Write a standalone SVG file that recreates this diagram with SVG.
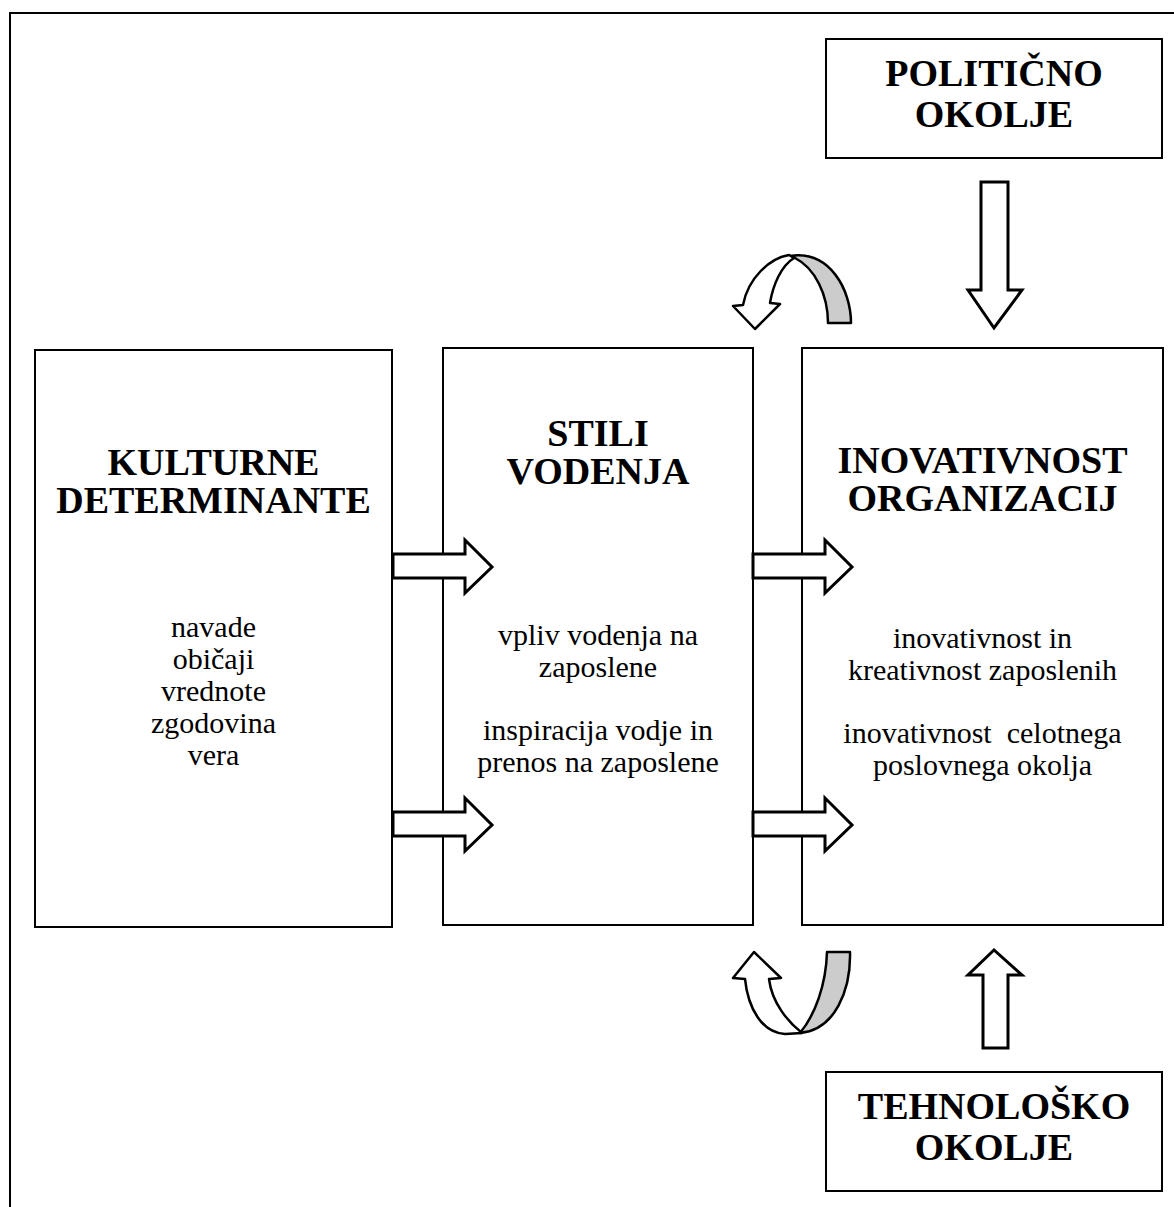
<svg xmlns="http://www.w3.org/2000/svg" width="1174" height="1207" viewBox="0 0 1174 1207">
  <style>
    .box { fill: #ffffff; stroke: #000000; stroke-width: 2; }
    .frame { fill: none; stroke: #000000; stroke-width: 2; }
    .blk { fill: #ffffff; stroke: #000000; stroke-width: 3; stroke-linejoin: miter; }
    .rib { fill: #ffffff; stroke: #000000; stroke-width: 2.5; stroke-linejoin: round; }
    .ribback { fill: #cccccc; stroke: #000000; stroke-width: 2.5; stroke-linejoin: round; }
    .title { font-family: "Liberation Serif", "Times New Roman", serif; font-weight: bold; font-size: 38px; text-anchor: middle; fill: #000000; }
    .body { font-family: "Liberation Serif", "Times New Roman", serif; font-size: 30px; text-anchor: middle; fill: #000000; }
  </style>

  <rect x="0" y="0" width="1174" height="1207" fill="#ffffff"/>

  <!-- page frame (open on the right and bottom) -->
  <path class="frame" d="M 10,1207 L 10,13 L 1174,13"/>

  <g id="politicno-okolje">
    <rect class="box" x="826" y="39" width="336" height="119"/>
    <text class="title" x="994" y="86">POLITIČNO</text>
    <text class="title" x="994" y="127">OKOLJE</text>
  </g>

  <g id="kulturne-determinante">
    <rect class="box" x="35" y="350" width="357" height="577"/>
    <text class="title" x="213.5" y="475">KULTURNE</text>
    <text class="title" x="213.5" y="513">DETERMINANTE</text>
    <text class="body" x="213.5" y="637">navade</text>
    <text class="body" x="213.5" y="669">običaji</text>
    <text class="body" x="213.5" y="701">vrednote</text>
    <text class="body" x="213.5" y="733">zgodovina</text>
    <text class="body" x="213.5" y="765">vera</text>
  </g>

  <g id="stili-vodenja">
    <rect class="box" x="443" y="348" width="310" height="577"/>
    <text class="title" x="598" y="446">STILI</text>
    <text class="title" x="598" y="484">VODENJA</text>
    <text class="body" x="598" y="645">vpliv vodenja na</text>
    <text class="body" x="598" y="677">zaposlene</text>
    <text class="body" x="598" y="740">inspiracija vodje in</text>
    <text class="body" x="598" y="772">prenos na zaposlene</text>
  </g>

  <g id="inovativnost-organizacij">
    <rect class="box" x="802" y="348" width="361" height="577"/>
    <text class="title" x="982.5" y="473">INOVATIVNOST</text>
    <text class="title" x="982.5" y="511">ORGANIZACIJ</text>
    <text class="body" x="982.5" y="648">inovativnost in</text>
    <text class="body" x="982.5" y="680">kreativnost zaposlenih</text>
    <text class="body" x="982.5" y="743" xml:space="preserve">inovativnost  celotnega</text>
    <text class="body" x="982.5" y="775">poslovnega okolja</text>
  </g>

  <g id="tehnolosko-okolje">
    <rect class="box" x="826" y="1072" width="336" height="119"/>
    <text class="title" x="994" y="1119">TEHNOLOŠKO</text>
    <text class="title" x="994" y="1160">OKOLJE</text>
  </g>

  <g id="connectors">
    <!-- block arrows: culture -> leadership styles -->
    <polygon class="blk" points="393,554 465,554 465,540 492,567 465,593 465,578 393,578"/>
    <polygon class="blk" points="393,812 465,812 465,798 492,825 465,851 465,836 393,836"/>
    <!-- block arrows: leadership styles -> innovativeness -->
    <polygon class="blk" points="753,554 825,554 825,540 852,567 825,593 825,578 753,578"/>
    <polygon class="blk" points="753,812 825,812 825,798 852,825 825,851 825,836 753,836"/>
    <!-- political environment (down) -->
    <polygon class="blk" points="981,182 1008,182 1008,290 1022,290 994,328 968,290 981,290"/>
    <!-- technological environment (up) -->
    <polygon class="blk" points="983,1048 1008,1048 1008,975 1022,975 994,950 968,975 983,975"/>

    <!-- curved ribbon arrow, top -->
    <path class="ribback" d="M 790,256 C 830,250 851,290 851,323 L 828,323 C 828,295 815,268 795,258 Z"/>
    <path class="rib" d="M 789,255 C 770,258 748,278 743,305 L 733,306 L 755,329 L 780,304 L 770,303 C 773,285 781,266 794,258 Z"/>

    <!-- curved ribbon arrow, bottom -->
    <path class="ribback" d="M 827,952 L 850,952 C 851,990 835,1030 800,1033 C 815,1015 826,985 827,952 Z"/>
    <path class="rib" d="M 745,979 C 748,1008 762,1033 785,1034 L 802,1033 C 788,1022 772,1003 769,979 L 781,978 L 754,952 L 733,978 Z"/>
  </g>
</svg>
